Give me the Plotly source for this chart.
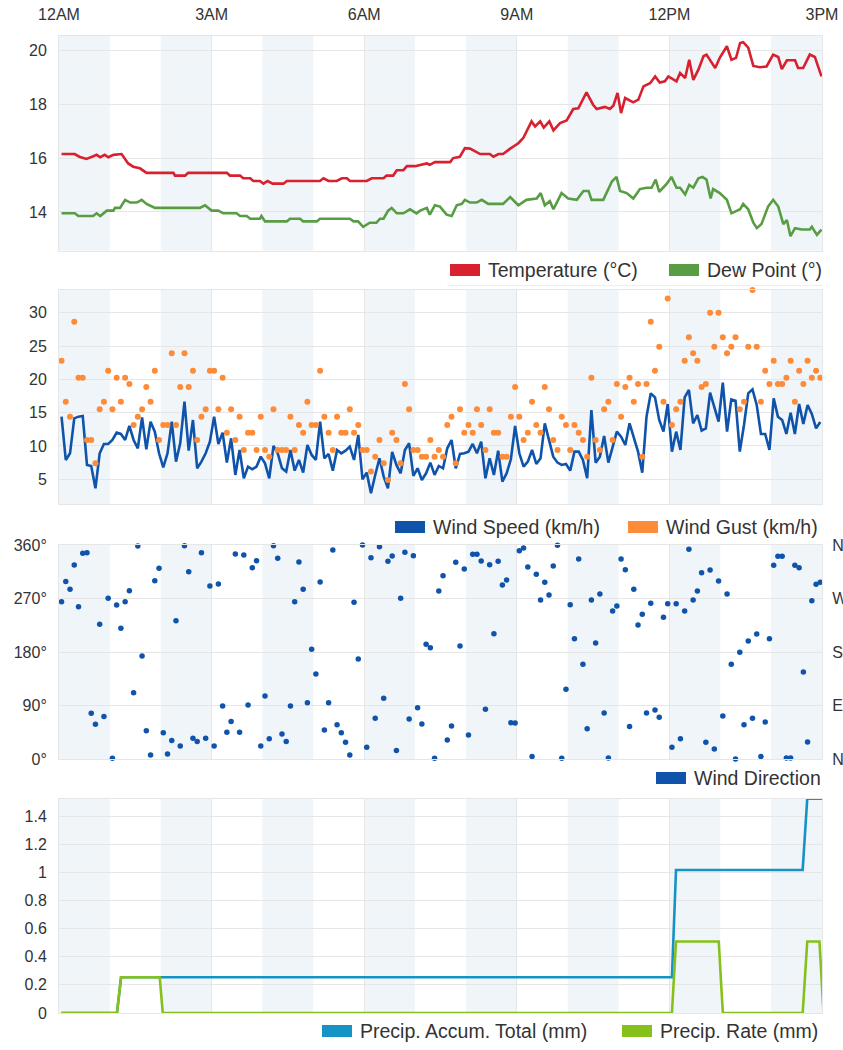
import plotly.graph_objects as go

# ---------------- data ----------------
hour_ticks = [0, 3, 6, 9, 12, 15]
hour_labels = ["12AM", "3AM", "6AM", "9AM", "12PM", "3PM"]

temp_hours = [0.05, 0.31, 0.4, 0.54, 0.65, 0.74, 0.81, 0.9, 0.97, 1.07,
              1.23, 1.36, 1.46, 1.59, 1.72, 2.25, 2.28, 2.48, 2.54, 3.3,
              3.36, 3.56, 3.62, 3.76, 3.82, 3.95, 4.02, 4.1, 4.2, 4.41,
              4.48, 5.13, 5.2, 5.3, 5.46, 5.56, 5.66, 5.72, 6.05, 6.15,
              6.38, 6.44, 6.57, 6.64, 6.77, 6.84, 7.0,
              7.10, 7.23, 7.29, 7.39, 7.69, 7.75, 7.88, 7.98, 8.08, 8.18,
              8.28, 8.47, 8.54, 8.64, 8.73, 8.87, 9.03, 9.13, 9.29, 9.36,
              9.46, 9.53, 9.64, 9.72, 9.85, 9.98, 10.11, 10.21, 10.37, 10.50,
              10.57, 10.73, 10.83, 10.90, 10.98, 11.05, 11.13, 11.29, 11.39, 11.49,
              11.62, 11.72, 11.81, 11.91, 11.98, 12.14, 12.21, 12.31, 12.39, 12.47,
              12.57, 12.67, 12.73, 12.90, 12.99, 13.13, 13.22, 13.31, 13.39, 13.45,
              13.55, 13.65, 13.78, 13.91, 14.04, 14.14, 14.21, 14.31, 14.47, 14.53,
              14.63, 14.76, 14.86, 14.99]
temperature = [16.15, 16.15, 16.05, 15.97, 16.05, 16.12, 16.03, 16.12, 16.03, 16.12,
               16.15, 15.8, 15.68, 15.62, 15.45, 15.45, 15.35, 15.35, 15.45, 15.45,
               15.35, 15.35, 15.25, 15.25, 15.15, 15.15, 15.05, 15.15, 15.05, 15.05,
               15.15, 15.15, 15.25, 15.15, 15.15, 15.25, 15.25, 15.15, 15.15, 15.25,
               15.25, 15.35, 15.35, 15.55, 15.55, 15.7, 15.7,
               15.75, 15.8, 15.75, 15.85, 15.85, 16.0, 16.05, 16.37, 16.35, 16.25,
               16.15, 16.15, 16.05, 16.15, 16.15, 16.35, 16.55, 16.75, 17.36, 17.17,
               17.36, 17.13, 17.36, 17.03, 17.3, 17.4, 17.82, 17.85, 18.44, 17.98,
               17.82, 17.9, 17.82, 17.95, 18.42, 17.67, 18.23, 18.07, 18.17, 18.66,
               18.78, 19.03, 18.8, 18.85, 19.03, 18.85, 19.16, 18.97, 19.65, 18.9,
               19.28, 19.78, 19.84, 19.34, 19.72, 20.15, 19.65, 19.72, 20.27, 20.3,
               20.1, 19.42, 19.37, 19.4, 19.84, 19.75, 19.3, 19.63, 19.63, 19.34,
               19.34, 19.84, 19.75, 19.03]

dew_hours = [0.05, 0.31, 0.38, 0.67, 0.74, 0.81, 0.94, 1.07, 1.1, 1.2,
             1.30, 1.4, 1.53, 1.625, 1.72, 1.887, 2.77, 2.87, 3.0, 3.13,
             3.23, 3.49, 3.56, 3.69, 3.76, 3.95, 3.98, 4.05, 4.48, 4.54,
             4.74, 4.8, 5.07, 5.13, 5.72, 5.79, 5.88, 5.98, 6.11, 6.24,
             6.31, 6.38, 6.47, 6.54, 6.64, 6.77, 6.9, 7.03,
             7.10, 7.23, 7.29, 7.39, 7.49, 7.62, 7.72, 7.82, 7.92, 7.98,
             8.08, 8.21, 8.31, 8.44, 8.73, 8.87, 9.03, 9.19, 9.39, 9.47,
             9.55, 9.65, 9.72, 9.88, 10.01, 10.18, 10.31, 10.41, 10.47, 10.7,
             10.87, 10.96, 11.03, 11.16, 11.29, 11.42, 11.55, 11.65, 11.73, 11.8,
             11.95, 12.04, 12.14, 12.21, 12.31, 12.39, 12.47, 12.57, 12.65, 12.73,
             12.81, 12.86, 12.99, 13.13, 13.22, 13.39, 13.45, 13.55, 13.65, 13.72,
             13.81, 13.94, 14.04, 14.14, 14.24, 14.31, 14.38, 14.47, 14.6, 14.76,
             14.8, 14.9, 14.99]
dew_point = [13.95, 13.95, 13.85, 13.85, 13.95, 13.85, 14.05, 14.05, 14.15, 14.15,
             14.45, 14.35, 14.35, 14.45, 14.3, 14.15, 14.15, 14.25, 14.05, 14.05,
             13.95, 13.95, 13.85, 13.85, 13.75, 13.75, 13.85, 13.65, 13.65, 13.75,
             13.75, 13.65, 13.65, 13.75, 13.75, 13.65, 13.65, 13.45, 13.6, 13.6,
             13.75, 13.75, 14.05, 14.15, 13.95, 13.95, 14.1, 13.95,
             14.05, 14.15, 13.9, 14.25, 14.2, 13.9, 13.85, 14.25, 14.3, 14.45,
             14.35, 14.35, 14.45, 14.3, 14.3, 14.55, 14.25, 14.45, 14.5, 14.7,
             14.25, 14.4, 14.1, 14.7, 14.5, 14.45, 14.78, 14.78, 14.45, 14.45,
             15.13, 15.3, 14.78, 14.7, 14.5, 14.85, 14.9, 14.9, 15.2, 14.75,
             15.05, 15.3, 14.9, 14.9, 14.65, 15.0, 14.9, 15.25, 15.3, 15.2,
             14.5, 14.85, 14.7, 14.45, 13.95, 14.1, 14.3, 14.1, 13.6, 13.4,
             13.55, 14.2, 14.45, 14.2, 13.55, 13.7, 13.1, 13.4, 13.35, 13.35,
             13.45, 13.15, 13.35]

# wind observations every 5 minutes, first at 00:03
obs_start_min = 3
obs_step_min = 5

wind_speed = [14.4, 7.9, 8.9, 14.15, 14.4, 14.5, 7.15, 7.0, 3.65, 8.9,
              10.3, 10.3, 10.9, 12.0, 11.8, 10.9, 13.0, 10.9, 9.65, 14.3,
              9.5, 13.65, 12.15, 8.9, 6.8, 8.9, 13.65, 7.65, 10.4, 16.65,
              9.3, 13.9, 6.65, 7.65, 8.9, 10.65, 14.4, 10.3, 12.0, 7.5,
              11.15, 5.65, 9.4, 5.15, 6.9, 6.5, 6.9, 8.4, 7.4, 5.15,
              10.0, 8.9, 6.65, 6.15, 9.4, 6.3, 7.9, 6.0, 10.15, 8.65,
              7.9, 13.65, 8.15, 8.8, 6.3, 9.4, 8.9, 9.3, 9.9, 7.9,
              11.65, 5.0, 6.0, 2.9, 5.65, 8.15, 5.4, 3.65, 9.1, 7.15,
              5.9, 9.4, 10.4, 5.5, 6.65,
              4.9, 5.9, 7.5, 5.65, 7.0, 6.65, 9.65, 10.9, 6.65, 8.8,
              8.9, 9.15, 10.3, 8.9, 10.65, 5.15, 8.15, 5.65, 9.3, 4.65,
              5.9, 8.0, 13.0, 8.9, 6.9, 7.65, 9.4, 7.3, 8.15, 13.4,
              10.65, 8.4, 7.5, 7.15, 7.3, 6.3, 9.15, 9.15, 7.9, 5.15,
              15.4, 7.5, 8.4, 11.5, 7.5, 10.0, 12.15, 11.4, 10.15, 13.4,
              11.4, 9.15, 6.0, 14.4, 17.9, 17.3, 13.9, 12.15, 16.3, 9.15,
              12.15, 9.4, 17.3, 18.4, 13.4, 14.65, 12.3, 12.65, 18.0, 15.65,
              13.65, 19.5, 12.15, 17.0, 16.8, 9.15, 13.15, 17.9, 18.5, 16.15,
              11.8, 11.8, 9.4, 17.15, 14.4, 13.9, 11.8, 15.0, 11.8, 16.3,
              13.3, 16.15, 14.8, 12.65, 13.6]

wind_gust = [22.8, 16.65, 14.4, 28.65, 20.25, 20.25, 10.9, 10.9, 7.4, 15.5,
             16.65, 21.3, 15.5, 20.25, 16.65, 20.25, 19.3, 13.15, 14.4, 15.5,
             18.85, 16.65, 21.3, 10.9, 13.15, 13.15, 23.9, 13.15, 18.85, 23.9,
             18.85, 21.3, 10.9, 14.4, 15.5, 21.3, 21.3, 15.5, 20.25, 12.0,
             15.5, 10.9, 14.4, 9.4, 12.0, 12.0, 9.4, 14.4, 9.4, 8.4,
             15.5, 9.4, 9.4, 9.4, 14.4, 9.4, 13.15, 12.0, 16.65, 13.15,
             13.15, 21.3, 14.4, 12.0, 9.4, 14.4, 12.0, 12.0, 15.5, 12.0,
             13.15, 9.4, 9.4, 6.15, 8.4, 10.9, 7.4, 4.9, 12.0, 10.9,
             7.4, 19.3, 15.5, 9.4, 9.4,
             8.4, 8.4, 10.9, 8.4, 9.4, 8.4, 13.15, 14.4, 7.4, 15.5,
             12.0, 13.15, 12.0, 15.5, 13.15, 9.4, 15.5, 12.0, 12.0, 8.4,
             8.4, 14.4, 18.85, 14.4, 10.9, 12.0, 16.65, 13.15, 12.0, 18.85,
             15.5, 10.9, 9.4, 14.4, 13.15, 9.4, 13.15, 12.0, 10.9, 8.4,
             20.25, 10.9, 9.4, 15.5, 16.65, 10.9, 19.3, 14.4, 18.85, 20.25,
             16.65, 19.3, 8.4, 19.3, 28.65, 21.3, 24.9, 16.65, 32.15, 13.15,
             15.5, 16.65, 22.8, 26.3, 23.9, 22.8, 18.85, 19.3, 30.0, 24.9,
             30.0, 26.3, 23.9, 24.9, 26.3, 15.5, 16.65, 24.9, 33.4, 24.9,
             16.65, 21.3, 19.3, 22.8, 19.3, 19.3, 20.25, 22.8, 16.65, 21.3,
             19.3, 22.8, 20.25, 21.3, 20.25]

wind_direction = [264.8, 298.6, 285.5, 326.5, 256.4, 346.2, 347.1, 77.3, 58.8, 226.7,
                  71.7, 270.4, 1.7, 259.2, 220.0, 264.8, 283.3, 112.0, 358.3, 173.6,
                  48.1, 7.3, 300.1, 320.8, 44.8, 9.0, 31.4, 232.9, 22.4, 358.9,
                  315.2, 35.3, 29.7, 347.1, 35.3, 291.1, 22.4, 294.5, 89.6, 45.4,
                  63.3, 344.9, 45.4, 343.2, 91.3, 321.9, 333.7, 22.4, 106.4, 34.7,
                  358.9, 337.6, 42.6, 29.7, 89.6, 264.8, 331.4, 285.5, 95.2, 184.8,
                  143.3, 297.9, 49.3, 95.2, 351.6, 58.2, 44.8, 28.6, 7.3, 263.7,
                  168.5, 360.0, 20.2, 338.7, 68.9, 357.2, 102.5, 332.6, 341.5, 14.6,
                  270.4, 347.7, 67.7, 342.1, 86.8,
                  59.3, 193.2, 187.6, 1.7, 282.7, 308.5, 32.5, 56.0, 330.9, 190.4,
                  319.7, 40.9, 344.4, 344.4, 333.1, 84.0, 327.0, 211.1, 332.6, 292.8,
                  301.2, 61.6, 61.0, 350.5, 355.0, 323.0, 4.5, 310.7, 267.6, 297.3,
                  276.0, 324.7, 359.4, 1.7, 117.6, 259.8, 202.7, 336.5, 159.6, 51.5,
                  267.6, 195.4, 277.7, 77.8, 2.2, 249.2, 257.5, 336.5, 318.6, 54.9,
                  285.5, 225.6, 243.5, 77.8, 262.0, 82.9, 70.5, 238.5, 261.5, 20.2,
                  261.5, 34.7, 249.2, 352.7, 267.6, 282.7, 313.5, 28.6, 318.0, 17.4,
                  299.5, 72.8, 277.7, 159.6, 0.6, 179.7, 58.2, 198.8, 68.9, 210.5,
                  4.5, 62.7, 202.7, 325.9, 341.0, 341.0, 2.2, 2.2, 325.9, 321.9,
                  146.7, 29.1, 266.5, 293.9, 297.3]

dir_ticks = [0, 90, 180, 270, 360]
dir_labels_left = ["0°", "90°", "180°", "270°", "360°"]
dir_labels_right = ["N", "E", "S", "W", "N"]

accum_hours = [0.05, 1.14, 1.22, 12.05, 12.13, 14.62, 14.71, 15.0]
precip_accum = [0, 0, 0.254, 0.254, 1.016, 1.016, 1.524, 1.524]
rate_hours = [0.05, 1.14, 1.22, 1.98, 2.04, 12.05, 12.13, 12.97, 13.05, 14.62, 14.71, 14.95, 15.03]
precip_rate = [0, 0, 0.254, 0.254, 0, 0, 0.508, 0.508, 0, 0, 0.508, 0.508, 0]

obs_hours = [(obs_start_min + obs_step_min * i) / 60 for i in range(len(wind_speed))]

# ---------------- styling ----------------
W, H = 843, 1050
ML, MR, MT, MB = 59, 21, 36, 37
PW, PH = W - ML - MR, H - MT - MB

def fx(p):
    return (p - ML) / PW

def fy(p):
    return 1 - (p - MT) / PH

FONT = "Liberation Sans, Arial, Helvetica, sans-serif"
TXT = "#333333"
GRID = "#e6e6e6"
BAND = "#f0f5fa"

C_TEMP = "#d9202f"
C_DEW = "#589d44"
C_WS = "#0f53ab"
C_GUST = "#fd8b38"
C_DIR = "#0f53ab"
C_ACC = "#1592c6"
C_RATE = "#85c11a"

fig = go.Figure()
fig.add_trace(go.Scatter(x=temp_hours, y=temperature, mode="lines", xaxis="x", yaxis="y",
                         line=dict(color=C_TEMP, width=2.6), name="Temperature (°C)"))
fig.add_trace(go.Scatter(x=dew_hours, y=dew_point, mode="lines", xaxis="x", yaxis="y",
                         line=dict(color=C_DEW, width=2.6), name="Dew Point (°)"))
fig.add_trace(go.Scatter(x=obs_hours, y=wind_speed, mode="lines", xaxis="x2", yaxis="y2",
                         line=dict(color=C_WS, width=2.6), name="Wind Speed (km/h)"))
fig.add_trace(go.Scatter(x=obs_hours, y=wind_gust, mode="markers", xaxis="x2", yaxis="y2",
                         marker=dict(color=C_GUST, size=6), cliponaxis=False,
                         name="Wind Gust (km/h)"))
fig.add_trace(go.Scatter(x=obs_hours, y=wind_direction, mode="markers", xaxis="x3", yaxis="y3",
                         marker=dict(color=C_DIR, size=5.5), cliponaxis=False,
                         name="Wind Direction"))
fig.add_trace(go.Scatter(x=obs_hours, y=wind_direction, mode="markers", xaxis="x3", yaxis="y5",
                         marker=dict(color=C_DIR, size=5.5, opacity=0), hoverinfo="skip",
                         showlegend=False))
fig.add_trace(go.Scatter(x=accum_hours, y=precip_accum, mode="lines", xaxis="x4", yaxis="y4",
                         line=dict(color=C_ACC, width=2.6), cliponaxis=False,
                         name="Precip. Accum. Total (mm)"))
fig.add_trace(go.Scatter(x=rate_hours, y=precip_rate, mode="lines", xaxis="x4", yaxis="y4",
                         line=dict(color=C_RATE, width=2.6), name="Precip. Rate (mm)"))

tickfont = dict(family=FONT, size=16, color=TXT)
xcommon = dict(range=[0, 15], domain=[0, 1], tickvals=hour_ticks, ticktext=hour_labels,
               showgrid=True, gridcolor=GRID, gridwidth=1, zeroline=False, showline=True,
               mirror=True, linecolor=GRID, linewidth=1, ticks="", automargin=False,
               tickfont=tickfont, fixedrange=True)
ycommon = dict(showgrid=True, gridcolor=GRID, gridwidth=1, zeroline=False, showline=True,
               mirror=True, linecolor=GRID, linewidth=1, ticks="", automargin=False,
               tickfont=tickfont, ticklabelstandoff=8, fixedrange=True)

panels = [(36, 250.5), (290, 504), (545, 759.3), (798.6, 1013)]

fig.update_layout(
    width=W, height=H, template="none",
    margin=dict(l=ML, r=MR, t=MT, b=MB),
    paper_bgcolor="white", plot_bgcolor="white", showlegend=False,
    font=dict(family=FONT, color=TXT),
    xaxis=dict(xcommon, anchor="y", side="top", showticklabels=True, ticklabelstandoff=9),
    xaxis2=dict(xcommon, anchor="y2", showticklabels=False),
    xaxis3=dict(xcommon, anchor="y3", showticklabels=False),
    xaxis4=dict(xcommon, anchor="y4", showticklabels=False),
    yaxis=dict(ycommon, anchor="x", domain=[fy(panels[0][1]), fy(panels[0][0])],
               range=[12.57, 20.53], dtick=2, tick0=0),
    yaxis2=dict(ycommon, anchor="x2", domain=[fy(panels[1][1]), fy(panels[1][0])],
                range=[1.29, 33.41], dtick=5, tick0=0),
    yaxis3=dict(ycommon, anchor="x3", domain=[fy(panels[2][1]), fy(panels[2][0])],
                range=[0, 360], tickvals=dir_ticks, ticktext=dir_labels_left),
    yaxis5=dict(ycommon, anchor="x3", overlaying="y3", side="right", range=[0, 360],
                tickvals=dir_ticks, ticktext=dir_labels_right, showgrid=False,
                ticklabelstandoff=6),
    yaxis4=dict(ycommon, anchor="x4", domain=[fy(panels[3][1]), max(0, fy(panels[3][0]))],
                range=[0, 1.524], dtick=0.2, tick0=0),
)

shapes = []
for xr, yr in [("x", "y"), ("x2", "y2"), ("x3", "y3"), ("x4", "y4")]:
    for h0 in range(0, 15, 2):
        shapes.append(dict(type="rect", xref=xr, yref=yr + " domain", x0=h0, x1=h0 + 1,
                           y0=0, y1=1, fillcolor=BAND, line=dict(width=0), layer="below"))

# legends (swatch + label), drawn in paper space
legend_items = [
    # (swatch_left_px, center_y_px, color, label)
    (450, 270, C_TEMP, "Temperature (°C)"),
    (669, 270, C_DEW, "Dew Point (°)"),
    (395, 527, C_WS, "Wind Speed (km/h)"),
    (628, 527, C_GUST, "Wind Gust (km/h)"),
    (656, 778, C_DIR, "Wind Direction"),
    (322, 1031, C_ACC, "Precip. Accum. Total (mm)"),
    (622, 1031, C_RATE, "Precip. Rate (mm)"),
]
annotations = []
for sx, cy, col, lab in legend_items:
    shapes.append(dict(type="rect", xref="paper", yref="paper",
                       x0=fx(sx), x1=fx(sx + 30), y0=fy(cy + 6), y1=fy(cy - 6),
                       fillcolor=col, line=dict(width=0), layer="above"))
    annotations.append(dict(xref="paper", yref="paper", x=fx(sx + 36), y=fy(cy),
                            xanchor="left", yanchor="middle", showarrow=False, text=lab,
                            font=dict(family=FONT, size=19.5, color=TXT)))
shapes.append(dict(type="line", xref="paper", yref="paper", x0=fx(447), x1=fx(823),
                   y0=fy(285.5), y1=fy(285.5), line=dict(color="#efefef", width=1)))

fig.update_layout(shapes=shapes, annotations=annotations)

fig.write_html("out.html", config={"displayModeBar": False},
               post_script="document.body.style.margin='0';document.body.style.overflow='hidden';")
